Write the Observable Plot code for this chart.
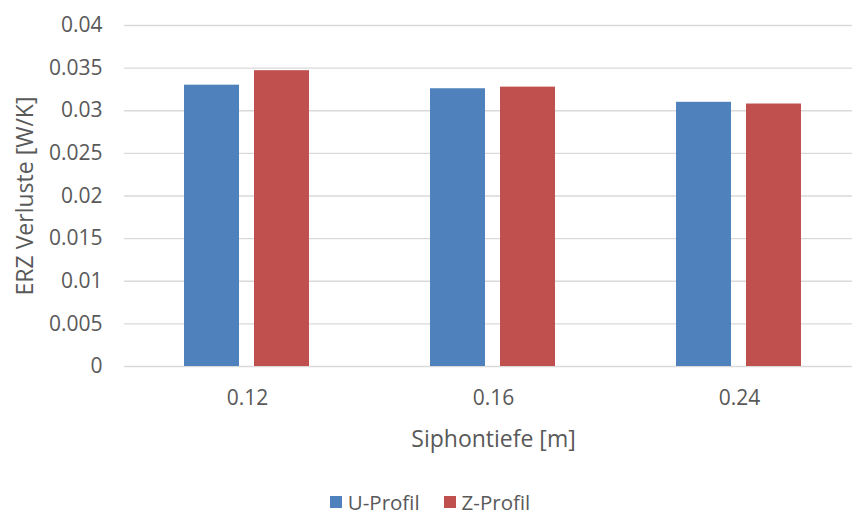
<!DOCTYPE html>
<html>
<head>
<meta charset="utf-8">
<script src="https://cdn.jsdelivr.net/npm/d3@7"></script>
<script src="https://cdn.jsdelivr.net/npm/@observablehq/plot@0.6"></script>
<style>
  html, body { margin: 0; padding: 0; background: #fff; width: 852px; height: 516px; overflow: hidden; }
  #chart { width: 852px; height: 490px; overflow: hidden; }
  #chart svg { max-width: none; }
  #chart g[aria-label$="axis label"] { font-size: 23px; }
  #legend { display: flex; justify-content: center; align-items: center; height: 24px; line-height: 24px;
    margin-top: 0; width: 852px;
    font-family: "Open Sans", sans-serif; font-size: 20.5px; color: #595959; padding-left: 8px; box-sizing: border-box; }
  #legend .item { display: flex; align-items: center; margin: 0 12px; }
  #legend .sw { width: 12px; height: 12px; margin-right: 6px; }
</style>
</head>
<body>
<div id="chart"></div>
<div id="legend"></div>
<script>
const categories = ["0.12", "0.16", "0.24"];
const series = ["U-Profil", "Z-Profil"];
const uValues = [0.0330, 0.03258, 0.03099];
const zValues = [0.0347, 0.03277, 0.03079];
const colors = ["#4F81BD", "#C0504D"];
const yTicks = [0, 0.005, 0.01, 0.015, 0.02, 0.025, 0.03, 0.035, 0.04];

const data = [];
categories.forEach((c, i) => {
  data.push({cat: c, series: series[0], value: uValues[i]});
  data.push({cat: c, series: series[1], value: zValues[i]});
});

const textColor = "#595959";
const font = "Open Sans, sans-serif";

const chart = Plot.plot({
  width: 862,
  height: 490,
  marginLeft: 124,
  marginRight: 0,
  marginTop: 25,
  marginBottom: 124,
  style: {fontFamily: font, fontSize: "21px", color: textColor, background: "#fff"},
  fx: {domain: categories, padding: 0, label: null, axis: null},
  x: {domain: series, paddingInner: 0.214, paddingOuter: 0.864, axis: null},
  y: {domain: [0, 0.04], label: null},
  color: {domain: series, range: colors},
  marks: [
    Plot.gridY(yTicks, {stroke: "#D9D9D9", strokeOpacity: 1, strokeWidth: 1.3}),
    Plot.barY(data, {fx: "cat", x: "series", y: "value", fill: "series"}),
    Plot.axisY(yTicks, {tickSize: 0, tickPadding: 22, tickFormat: d3.format("~g"), fill: textColor,
      label: "ERZ Verluste [W/K]", labelAnchor: "center", labelArrow: "none", labelOffset: 108}),
    Plot.axisFx({anchor: "bottom", tickSize: 0, tickPadding: 24, fill: textColor,
      label: "Siphontiefe [m]", labelAnchor: "center", labelArrow: "none", labelOffset: 80})
  ]
});
document.getElementById("chart").appendChild(chart);

const legend = document.getElementById("legend");
series.forEach((s, i) => {
  const item = document.createElement("div");
  item.className = "item";
  const sw = document.createElement("div");
  sw.className = "sw";
  sw.style.background = colors[i];
  const t = document.createElement("span");
  t.textContent = s;
  item.appendChild(sw);
  item.appendChild(t);
  legend.appendChild(item);
});
</script>
</body>
</html>
